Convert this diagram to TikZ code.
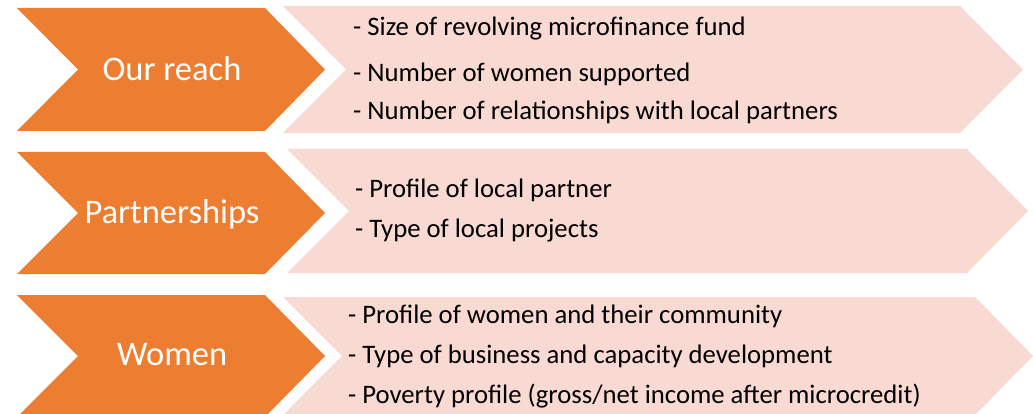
\documentclass[tikz,border=0pt]{standalone}
\usepackage{fontspec}
\setmainfont{Carlito}
\definecolor{chevorange}{HTML}{ED7D31}
\definecolor{chevpink}{HTML}{F8DAD3}
\tikzset{
  lead/.style={fill=chevorange, draw=none},
  detail/.style={fill=chevpink, draw=none},
  leadtext/.style={text=white, anchor=base, inner sep=0pt,
    font=\fontsize{34.5}{41}\selectfont},
  item/.style={anchor=base west, inner sep=0pt,
    font=\fontsize{26.7}{32}\selectfont},
}
\begin{document}
\begin{tikzpicture}[x=1pt, y=-1pt]
\useasboundingbox (0,0) rectangle (1033,414);

% row 1: our reach
\path[detail] (283,6) -- (960,6) -- (1023,69.5) -- (960,133) -- (283,133) -- (346,69.5) -- cycle;
\path[lead] (17,8) -- (265,8) -- (325,69.5) -- (265,131) -- (17,131) -- (78,69.5) -- cycle;
\node[leadtext] (reach) at (172,81) {Our reach};
\node[item] (r1) at (353,36) {- Size of revolving microfinance fund};
\node[item] (r2) at (353,82) {- Number of women supported};
\node[item] (r3) at (353,120) {- Number of relationships with local partners};

% row 2: partnerships
\path[detail] (287,149) -- (967,149) -- (1028,211) -- (967,273) -- (287,273) -- (349,211) -- cycle;
\path[lead] (17,152) -- (265,152) -- (325,213) -- (265,274) -- (17,274) -- (78,213) -- cycle;
\node[leadtext] (partner) at (172,223) {Partnerships};
\node[item] (p1) at (355,198) {- Profile of local partner};
\node[item] (p2) at (355,237) {- Type of local projects};

% row 3: women
\path[detail] (283,297) -- (975,297) -- (1033,356) -- (975,415) -- (283,415) -- (342,356) -- cycle;
\path[lead] (17,295) -- (265,295) -- (325,356) -- (265,417) -- (17,417) -- (78,356) -- cycle;
\node[leadtext] (women) at (172,365) {Women};
\node[item] (w1) at (348,323) {- Profile of women and their community};
\node[item] (w2) at (348,363) {- Type of business and capacity development};
\node[item] (w3) at (348,403) {- Poverty profile (gross/net income after microcredit)};
\end{tikzpicture}
\end{document}
